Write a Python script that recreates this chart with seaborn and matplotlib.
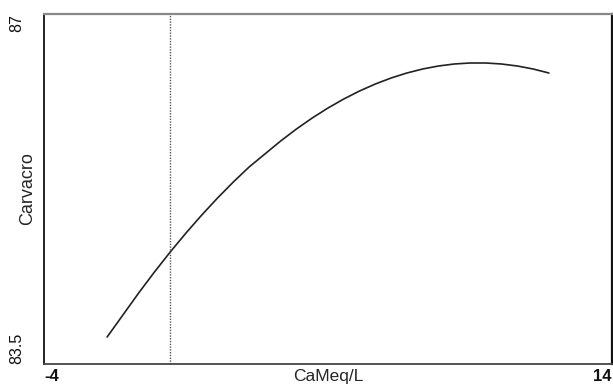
import matplotlib
matplotlib.use("Agg")
import matplotlib.pyplot as plt
import seaborn as sns
import pandas as pd

# Data
cameq = [-2, -1.5, -1, -0.5, 0, 0.5, 1, 1.5, 2, 2.5, 3, 3.5, 4, 4.5, 5,
         5.5, 6, 6.5, 7, 7.5, 8, 8.5, 9, 9.5, 10, 10.5, 11, 11.5, 12]
carvacro = [83.77, 83.99, 84.21, 84.42, 84.62, 84.81, 84.99, 85.16, 85.32,
            85.47, 85.60, 85.73, 85.85, 85.96, 86.06, 86.15, 86.23, 86.30,
            86.36, 86.41, 86.45, 86.48, 86.50, 86.51, 86.51, 86.50, 86.48,
            86.45, 86.41]
ref_x = 0
x_ticks = [-4, -2, 0, 2, 4, 6, 8, 10, 12, 14]
x_ticklabels = ["-4", "", "", "", "", "", "", "", "", "14"]
y_ticks = [83.5, 84.0, 84.5, 85.0, 85.5, 86.0, 86.5, 87.0]
y_ticklabels = ["83.5", "", "", "", "", "", "", "87"]
x_label = "CaMeq/L"
y_label = "Carvacro"

sns.set_style("white")
plt.rcParams["font.family"] = ["Liberation Sans", "DejaVu Sans"]

df = pd.DataFrame({"x": cameq, "y": carvacro})

fig = plt.figure(figsize=(6.13, 3.85), dpi=100)
ax = fig.add_axes([44 / 613, 21 / 385, 568 / 613, 350 / 385])

sns.lineplot(data=df, x="x", y="y", ax=ax, color="#222222", linewidth=1.2)
ax.axvline(ref_x, color="#555555", linestyle=(0, (1, 1)), linewidth=1.0)

ax.set_xlim(x_ticks[0], x_ticks[-1])
ax.set_ylim(y_ticks[0], y_ticks[-1])
ax.set_xticks(x_ticks)
ax.set_yticks(y_ticks)
ax.set_xticklabels(x_ticklabels, fontsize=12, fontweight="bold")
ax.set_yticklabels(y_ticklabels, fontsize=11.5, rotation=90)

xl = ax.get_xticklabels()
xl[0].set_ha("left")
xl[-1].set_ha("right")
yl = ax.get_yticklabels()
yl[0].set_va("bottom")
yl[-1].set_va("top")
for t in yl:
    t.set_ha("center")

ax.tick_params(axis="x", direction="inout", length=5, width=1.0, pad=1, colors="#111111")
ax.tick_params(axis="y", direction="inout", length=5, width=1.0, pad=17, colors="#111111")

ax.set_xlabel(x_label, fontsize=12.5)
ax.xaxis.set_label_coords(0.5, -0.0486)
ax.xaxis.label.set_va("baseline")
ax.set_ylabel(y_label, fontsize=13)
ax.yaxis.set_label_coords(-0.013, 0.5)

for side, col, lw in [("left", "#111111", 1.3), ("right", "#111111", 1.6),
                      ("bottom", "#444444", 1.3), ("top", "#888888", 1.6)]:
    ax.spines[side].set_visible(True)
    ax.spines[side].set_color(col)
    ax.spines[side].set_linewidth(lw)

fig.savefig("out.png", dpi=100)
